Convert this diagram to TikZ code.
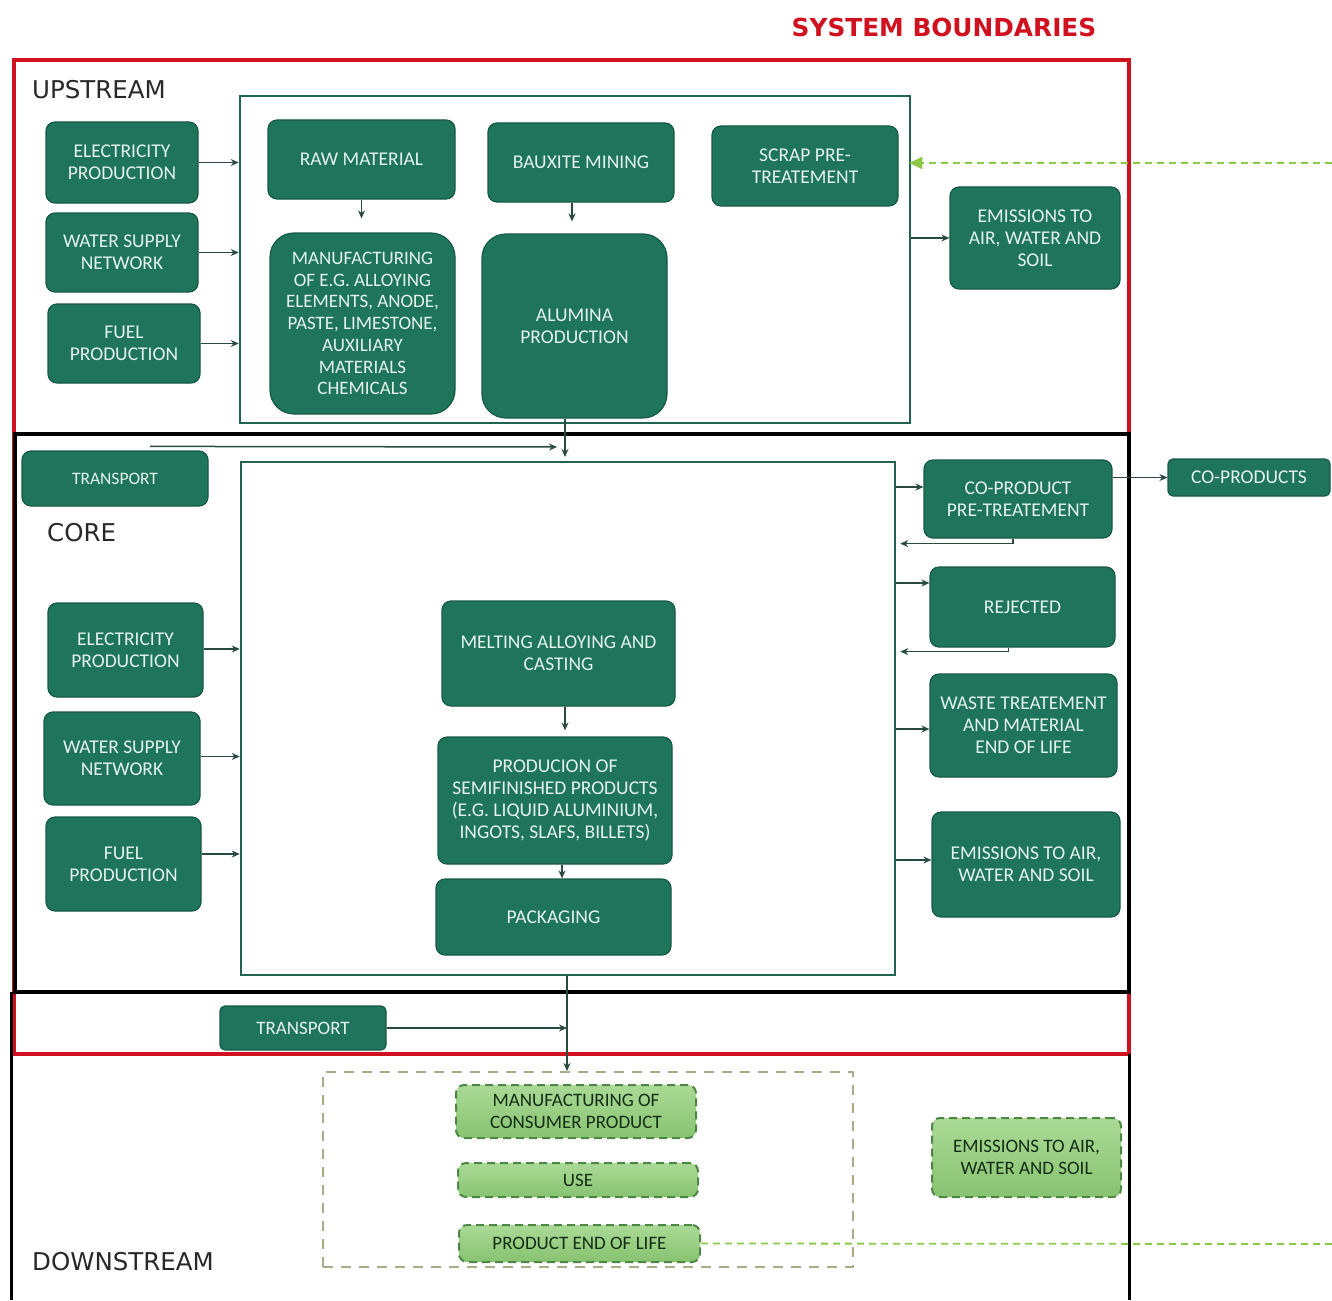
\documentclass[tikz,border=0pt]{standalone}
\usepackage{fontspec}
\setmainfont{Carlito}
\newfontfamily\labelfont{DejaVu Sans}
\usetikzlibrary{arrows.meta,calc}
\definecolor{boxgreen}{RGB}{31,117,92}
\definecolor{boxedge}{RGB}{22,90,70}
\definecolor{boxtext}{RGB}{228,242,235}
\definecolor{framegreen}{RGB}{30,100,80}
\definecolor{arrowcol}{RGB}{40,75,62}
\definecolor{sysred}{RGB}{208,18,32}
\definecolor{lighttop}{RGB}{170,218,150}
\definecolor{lightbot}{RGB}{135,195,112}
\definecolor{lightedge}{RGB}{78,135,68}
\definecolor{darktext}{RGB}{20,45,22}
\definecolor{dashframe}{RGB}{165,172,135}
\definecolor{limegreen}{RGB}{140,200,70}
\definecolor{labelgrey}{RGB}{40,40,40}
\begin{document}
\begin{tikzpicture}[x=1pt,y=-1pt,
  box/.style={rectangle, rounded corners=9pt, fill=boxgreen, draw=boxedge, line width=1.2pt,
    text=boxtext, font=\fontsize{19.5}{22}\selectfont, align=center, inner sep=2pt},
  bigbox/.style={box, rounded corners=24pt},
  lbox/.style={rectangle, rounded corners=8pt, top color=lighttop, bottom color=lightbot, draw=lightedge, line width=2pt,
    dash pattern=on 8pt off 5pt, text=darktext, font=\fontsize{19}{22}\selectfont, align=center, inner sep=2pt},
  frame/.style={rectangle, draw=framegreen, line width=2.5pt, inner sep=0pt},
  dframe/.style={rectangle, draw=dashframe, line width=2pt, dash pattern=on 10pt off 8pt, inner sep=0pt},
  arr/.style={-{Stealth[length=8pt,width=7pt]}, draw=arrowcol, line width=1.5pt},
  garr/.style={-{Triangle[length=13pt,width=12pt]}, draw=limegreen, fill=limegreen, line width=1.8pt, dash pattern=on 7pt off 5pt},
  gline/.style={draw=limegreen, line width=1.8pt, dash pattern=on 7pt off 5pt},
  seclabel/.style={font=\labelfont\fontsize{24.5}{28}\selectfont, text=labelgrey, anchor=west, inner sep=0pt}
]
\useasboundingbox (0,0) rectangle (1332,1300);

% ---------- system boundary frames ----------
\draw[sysred, line width=3.5pt] (14,60) rectangle (1129,1054);
\draw[black, line width=3.5pt] (15,434) rectangle (1129,992);
\draw[black, line width=3pt] (11,992) -- (11,1300);
\draw[black, line width=3pt] (1129,1054) -- (1129,1300);

\node[font=\labelfont\bfseries\fontsize{24.8}{28}\selectfont, text=sysred, inner sep=0pt] (title) at (944,27) {SYSTEM BOUNDARIES};

% ---------- section labels ----------
\node[seclabel] (lup) at (32,90) {UPSTREAM};
\node[seclabel] (lcore) at (47,533) {CORE};
\node[seclabel] (ldown) at (32,1262) {DOWNSTREAM};

% ---------- inner frames ----------
\node[frame, minimum width=670pt, minimum height=327pt] (upr) at (575,259.5) {};
\node[frame, minimum width=654pt, minimum height=513pt] (corer) at (568,718.5) {};
\node[dframe, minimum width=530pt, minimum height=195pt] (dfr) at (588,1169.5) {};

% ---------- upstream ----------
\node[box, minimum width=152pt, minimum height=81pt] (ue) at (122,162.5) {ELECTRICITY\\PRODUCTION};
\node[box, minimum width=152pt, minimum height=79pt] (uw) at (122,252.5) {WATER SUPPLY\\NETWORK};
\node[box, minimum width=152pt, minimum height=79pt] (uf) at (124,343.5) {FUEL\\PRODUCTION};
\node[box, minimum width=187pt, minimum height=79pt] (raw) at (361.5,159.5) {RAW MATERIAL};
\node[bigbox, minimum width=185pt, minimum height=181pt, font=\fontsize{19}{21.7}\selectfont] (manu) at (362.5,323.5)
  {MANUFACTURING\\OF E.G. ALLOYING\\ELEMENTS, ANODE,\\PASTE, LIMESTONE,\\AUXILIARY\\MATERIALS\\CHEMICALS};
\node[box, minimum width=186pt, minimum height=79pt] (baux) at (581,162.5) {BAUXITE MINING};
\node[bigbox, minimum width=185pt, minimum height=184pt] (alum) at (574.5,326) {ALUMINA\\PRODUCTION};
\node[box, minimum width=186pt, minimum height=80pt] (scrap) at (805,166) {SCRAP PRE-\\TREATEMENT};
\node[box, minimum width=170pt, minimum height=102pt] (uem) at (1035,238) {EMISSIONS TO\\AIR, WATER AND\\SOIL};

\draw[arr] (ue.east) -- (ue.east -| upr.west);
\draw[arr] (uw.east) -- (uw.east -| upr.west);
\draw[arr] (uf.east) -- (uf.east -| upr.west);
\draw[arr, shorten >=14pt] (raw.south) -- (raw.south |- manu.north);
\draw[arr, shorten >=12pt] ([xshift=-9pt]baux.south) -- ([xshift=-9pt]baux.south |- alum.north);
\draw[arr] (upr.east |- uem.west) -- (uem.west);

\coordinate (gin) at (1332,163);
\draw[garr] (gin) -- ([xshift=-2pt]gin -| upr.east);

% ---------- core ----------
\node[box, minimum width=186pt, minimum height=55pt, font=\fontsize{17.5}{20}\selectfont] (tr1) at (115,478.5) {TRANSPORT};
\node[box, minimum width=155pt, minimum height=94pt] (ce) at (125.5,650) {ELECTRICITY\\PRODUCTION};
\node[box, minimum width=156pt, minimum height=93pt] (cw) at (122,758.5) {WATER SUPPLY\\NETWORK};
\node[box, minimum width=155pt, minimum height=94pt] (cf) at (123.5,864) {FUEL\\PRODUCTION};

\node[box, minimum width=233pt, minimum height=105pt] (melt) at (558.5,653.5) {MELTING ALLOYING AND\\CASTING};
\node[box, minimum width=234pt, minimum height=127pt] (semi) at (555,800.5) {PRODUCION OF\\SEMIFINISHED PRODUCTS\\(E.G. LIQUID ALUMINIUM,\\INGOTS, SLAFS, BILLETS)};
\node[box, minimum width=235pt, minimum height=76pt] (pack) at (553.5,917) {PACKAGING};

\node[box, minimum width=188pt, minimum height=78pt] (cop) at (1018,499) {CO-PRODUCT\\PRE-TREATEMENT};
\node[box, minimum width=185pt, minimum height=80pt] (rej) at (1022.5,607) {REJECTED};
\node[box, minimum width=187pt, minimum height=103pt] (waste) at (1023.5,725.5) {WASTE TREATEMENT\\AND MATERIAL\\END OF LIFE};
\node[box, minimum width=188pt, minimum height=105pt] (cem) at (1026,864.5) {EMISSIONS TO AIR,\\WATER AND SOIL};
\node[box, minimum width=162pt, minimum height=37pt, rounded corners=5pt, font=\fontsize{19.5}{22}\selectfont] (coprods) at (1249,477.5) {CO-PRODUCTS};

% upstream -> core
\coordinate (j1) at (565,457);
\coordinate (j0) at (557,447);
\draw[arr] (j1 |- alum.south) -- (j1);
\draw[arr] ([xshift=35pt,yshift=4pt]tr1.north) -- (j0);

\draw[arr] ([yshift=1pt]ce.east) -- ([yshift=1pt]ce.east -| corer.west);
\draw[arr] ([yshift=2pt]cw.east) -- ([yshift=2pt]cw.east -| corer.west);
\draw[arr] ([yshift=10pt]cf.east) -- ([yshift=10pt]cf.east -| corer.west);

\draw[arr, shorten >=6pt] ([xshift=6.5pt]melt.south) -- ([xshift=6.5pt]melt.south |- semi.north);
\draw[arr] ([xshift=7pt]semi.south) -- ([xshift=7pt]semi.south |- pack.north);

\draw[arr] ([yshift=12pt]cop.west -| corer.east) -- ([yshift=12pt]cop.west);
\draw[arr] ([yshift=24pt]rej.west -| corer.east) -- ([yshift=24pt]rej.west);
\draw[arr] ([yshift=-3.5pt]waste.west -| corer.east) -- ([yshift=-3.5pt]waste.west);
\draw[arr] ([yshift=4.5pt]cem.west -| corer.east) -- ([yshift=4.5pt]cem.west);

\draw[arr] ([xshift=-5pt]cop.south) -- ++(0,5) -- ([xshift=4pt,yshift=-5pt]cop.south -| corer.east);
\draw[arr] ([xshift=-14pt]rej.south) -- ++(0,4) -- ([xshift=4pt,yshift=-4pt]rej.south -| corer.east);

\draw[arr] (coprods.west -| cop.east) -- (coprods.west);

% ---------- core -> downstream ----------
\node[box, minimum width=166pt, minimum height=44pt, rounded corners=5pt, font=\fontsize{19}{22}\selectfont] (tr2) at (303,1028) {TRANSPORT};
\coordinate (j2) at (567,1028);
\draw[arr] (j2 |- corer.south) -- (j2 |- dfr.north);
\draw[arr] (tr2.east) -- (j2);

% ---------- downstream ----------
\node[lbox, minimum width=240pt, minimum height=53pt] (mcp) at (576,1111.5) {MANUFACTURING OF\\CONSUMER PRODUCT};
\node[lbox, minimum width=240pt, minimum height=34pt] (use) at (578,1180) {USE};
\node[lbox, minimum width=241pt, minimum height=37pt] (eol) at (579.5,1243.5) {PRODUCT END OF LIFE};
\node[lbox, minimum width=189pt, minimum height=79pt] (dem) at (1026.5,1157.5) {EMISSIONS TO AIR,\\WATER AND SOIL};

\coordinate (gout) at (1332,1244);
\draw[gline] (eol.east) -- (gout);
\end{tikzpicture}
\end{document}
